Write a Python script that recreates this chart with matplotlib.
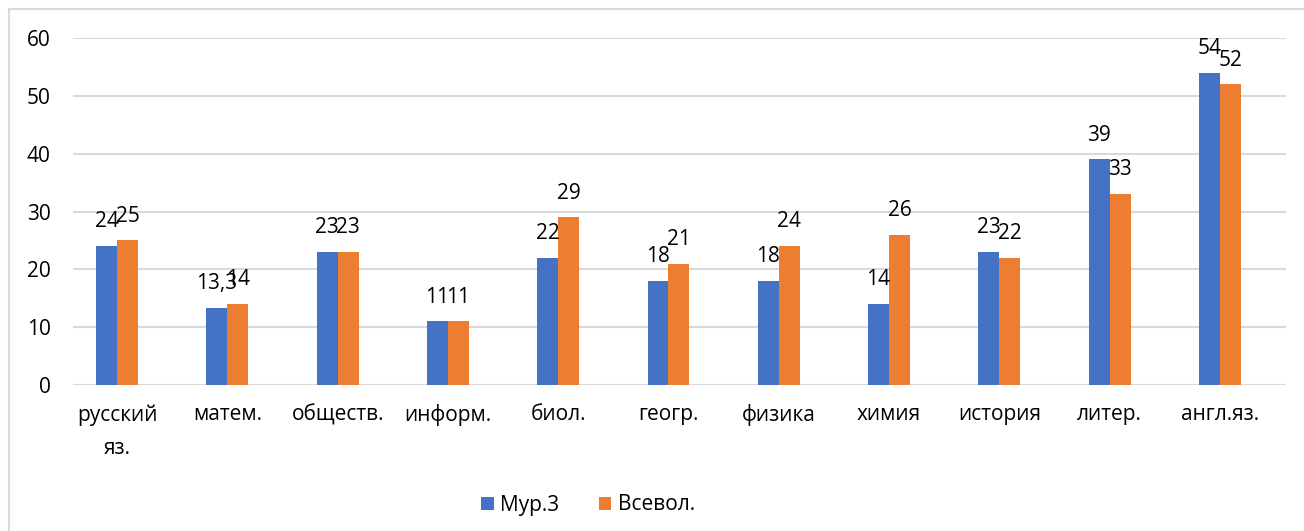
import numpy as np
import matplotlib
matplotlib.use("Agg")
from matplotlib import pyplot as plt
from matplotlib.lines import Line2D

subjects = ["русский\nяз.", "матем.", "обществ.", "информ.", "биол.", "геогр.",
            "физика", "химия", "история", "литер.", "англ.яз."]
mur3 = [24, 13.3, 23, 11, 22, 18, 18, 14, 23, 39, 54]
vsevol = [25, 14, 23, 11, 29, 21, 24, 26, 22, 33, 52]
series_names = ["Мур.3", "Всевол."]
yticks = [0, 10, 20, 30, 40, 50, 60]

plt.rcParams['font.family'] = ['Open Sans', 'DejaVu Sans']
fs = 15

fig = plt.figure(figsize=(13.04, 5.31), dpi=100)
ax = fig.add_axes([73 / 1304, 1 - 385 / 531, (1286 - 73) / 1304, (385 - 38) / 531])

x = np.arange(len(subjects))
w = 0.19
b1 = ax.bar(x - w / 2, mur3, w, color="#4472C4", label=series_names[0], zorder=3)
b2 = ax.bar(x + w / 2, vsevol, w, color="#ED7D31", label=series_names[1], zorder=3)

def fmt(v):
  return str(v).replace(".", ",") if v % 1 else str(int(v))

for bars, vals in ((b1, mur3), (b2, vsevol)):
  for bar, v in zip(bars, vals):
    ax.annotate(fmt(v), (bar.get_x() + bar.get_width() / 2, v),
                xytext=(0, 13.5), textcoords="offset points",
                ha="center", va="baseline", fontsize=fs, color="#000000")

ax.set_xlim(-0.4, len(subjects) - 0.4)
ax.set_ylim(0, 60)
ax.set_yticks(yticks)
ax.set_xticks(x)
ax.set_xticklabels(subjects, linespacing=1.75)
ax.tick_params(axis="both", length=0, labelsize=fs, colors="#000000")
ax.tick_params(axis="y", pad=16)
ax.tick_params(axis="x", pad=14)
ax.grid(axis="y", color="#d9d9d9", linewidth=1.5, zorder=0)
for s in ax.spines.values():
  s.set_visible(False)

fig.legend(handles=[b1, b2], labels=series_names, loc="center",
           bbox_to_anchor=(588 / 1304, 1 - 505 / 531), ncol=2, frameon=False,
           fontsize=fs, handlelength=0.6, handleheight=0.6, handletextpad=0.3,
           columnspacing=1.9)

# outer chart border (left and top only visible)
fig.add_artist(Line2D([9 / 1304, 9 / 1304], [0, 1 - 9 / 531], color="#d9d9d9", linewidth=1.5))
fig.add_artist(Line2D([9 / 1304, 1], [1 - 9 / 531, 1 - 9 / 531], color="#d9d9d9", linewidth=1.5))

fig.savefig("out.png", dpi=100)
